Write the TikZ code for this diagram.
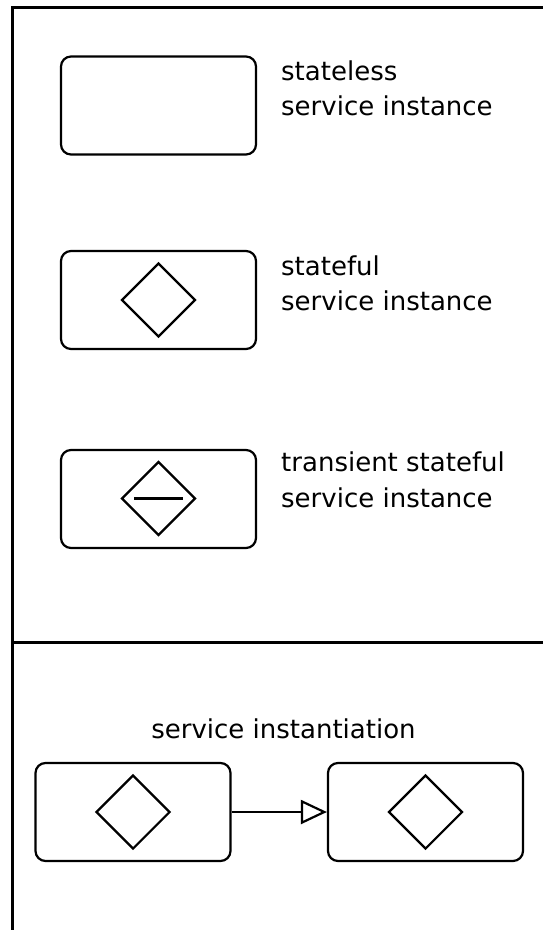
\documentclass[tikz,border=0pt]{standalone}
\usepackage{fontspec}
\setmainfont{DejaVu Sans}
\usetikzlibrary{shapes.geometric,arrows.meta}
\begin{document}
\begin{tikzpicture}[x=1pt,y=-1pt,
  frameline/.style={line width=3pt},
  instance/.style={draw, line width=2.2pt, rectangle, rounded corners=10pt,
    minimum width=195pt, minimum height=98pt, inner sep=0pt},
  statemark/.style={draw, line width=2.2pt, diamond, aspect=1,
    minimum width=74pt, minimum height=74pt, inner sep=0pt},
  caption/.style={anchor=base west, inner sep=0pt, font=\fontsize{26}{35}\selectfont},
  instarrow/.style={line width=2.2pt, -{Triangle[open,length=26pt,width=24pt,line width=2.2pt]}}]
  \useasboundingbox (0,0) rectangle (543,930);

  % frame and divider
  \coordinate (ftop) at (543,7);
  \coordinate (fcorner) at (12.5,7);
  \coordinate (fbottom) at (12.5,932);
  \coordinate (dleft) at (12.5,642);
  \coordinate (dright) at (543,642);
  \draw[frameline] (ftop) -- (fcorner) -- (fbottom);
  \draw[frameline] (dleft) -- (dright);

  % legend: stateless
  \node[instance] (stateless) at (158.5,105.5) {};
  \node[caption] (t1a) at (281,80) {stateless};
  \node[caption] (t1b) at (281,115) {service instance};

  % legend: stateful
  \node[instance] (stateful) at (158.5,300) {};
  \node[statemark] (d2) at (stateful.center) {};
  \node[caption] (t2a) at (281,275) {stateful};
  \node[caption] (t2b) at (281,310) {service instance};

  % legend: transient stateful
  \node[instance] (transient) at (158.5,499) {};
  \node[statemark] (d3) at (158.5,498.5) {};
  \draw[line width=2.2pt] ([xshift=-24.5pt]d3.center) -- ([xshift=24.5pt]d3.center);
  \node[caption] (t3a) at (281,471) {transient stateful};
  \node[caption] (t3b) at (281,507) {service instance};

  % service instantiation
  \node[anchor=base, inner sep=0pt, font=\fontsize{26}{35}\selectfont] (t4) at (283.5,738) {service instantiation};
  \node[instance] (src) at (133,812) {};
  \node[statemark] (d4) at (src.center) {};
  \node[instance] (dst) at (425.5,812) {};
  \node[statemark] (d5) at (dst.center) {};
  \draw[instarrow] (src.east) -- (dst.west);
\end{tikzpicture}
\end{document}
